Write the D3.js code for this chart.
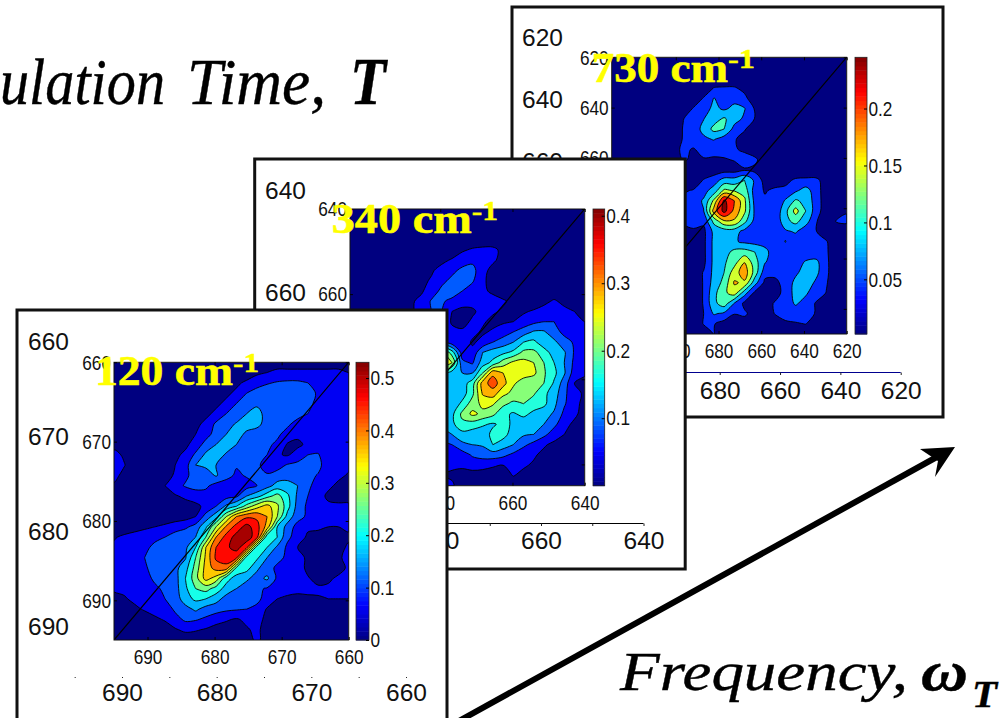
<!DOCTYPE html>
<html><head><meta charset="utf-8">
<script src="https://cdn.jsdelivr.net/npm/d3@7"></script>
<style>html,body{margin:0;padding:0;background:#fff;overflow:hidden}svg{display:block}</style>
</head><body><svg id="c" width="1008" height="718"></svg>
<script>
// Signal, in units of 0.01, rows top to bottom, columns left to right
const grid120 = [
[2,2,2,2,2,2,2,2,2,2,2,2,2,3,3,3,3,3,3,3,3,3,3,3],
[2,2,2,2,2,2,2,2,2,2,2,2,2,2,4,5,6,6,6,6,6,6,6,5],
[2,2,2,2,2,2,2,2,2,2,2,2,4,6,8,9.5,10.5,11,11,10,7,7,7,7],
[2,2,2,2,2,2,2,2,2,2,2,4,6,10,12,13,13,13,13,13,9,7,7,7],
[2,2,2,2,2,2,2,2,2,2,4,6,10,12,14,14,13,13,13,12,8,7,7,7],
[2,2,2,2,2,2,2,2,2,4,6,10,12,15,17,13,12,12,12,10,7,7,7,7],
[2,2,2,2,2,2,2,2,4,6,11,13,15.5,17,16.5,13,12,11,8,7,5,7,7,7],
[2,2,2,2,2,2,2,3,5,8,12,15,17,14,12.5,12,11,8,6,6,7,6,7,7],
[4,2,2,2,2,2,2,4,7,12,15,17,15,13,12,11,9,4.5,4,6,7,7,7,7],
[6,4.5,2,2,2,2,4,6,11,16,17,14.5,13,12.5,12,10,5.5,4.5,7,10,10.5,6,6,6],
[6.5,5.2,3,2,2,3,5,8,15,16,15,13,10.5,12,11,8,8,10.5,11.5,12,12,6,6,6],
[6,4,2,2,2,3.5,5.5,9,12,12.5,15.5,12,9,10.5,10,10.5,12,13,13,12,9.5,6,6,4.5],
[4.5,2,2,2,2.5,5,8,10.5,12,11,8,7,7,8,10,13,17,17,15,11,8,6,4,4],
[2,2,2,2,2,3,4.5,6,7,8,8,8,9,15,18,23,27,21,14,10,7,4,3,3],
[2,2,2,2,2,2,2,3,4,6,10,16,20,27,33,37,31,22,13,9,5.5,6,6,6],
[2,2,2,2,2,2,2,3,5,12,18,30,40,44,44,40,30,18,12,9,7,6,6,7],
[2,2,3,4,5,6,8,9,12,19,30,41,47,52,47,38,20,13,8,6,6,5,5,6],
[4.5,6,7,8,9,10,12,14,15,25,40,47,52,53,47,21,20,11,8,4,3,3,3,4],
[6,7,8,9,11,13,14,14,20,35,45,49,52,46,22,20,14,9,5,3,3,3.5,3,6],
[7,8,9,10,12,14,15,14.5,25,36,46,48,46,22,21,15,11.5,9,7,4,5,5,4,7],
[7,7,8,9,12.5,13,13.5,18,27,37,42,43,24,22,16,12,9,8,8,3.5,3.5,3,3,6],
[7,7,8,8,11,12,13,20,28,37,33,22,18,16,13,16,9,8,7,5.5,3,4,6,8],
[5.5,6,7,8,9,11,13,19,25,27,23,18,15,12.5,11,9.5,8,7,5.5,6.5,6,6,6,6],
[4,4.5,6,7,8,10,12,18,21,20,17,13,12,11,11,8.5,5,4,4.5,4,4.5,5,5,5],
[3,3,4,5.5,7,7,11,13,16,13,12,11,10.5,10,9,4.5,4,3.5,3.5,3.5,3.5,3.5,3.5,3.5],
[2.5,2.5,2.5,2.5,4,5.5,8,11,10.5,9,7,5.5,4.5,6,7,3.5,3,3,3,3,3,3,3,3],
[2.5,2.5,2.5,2.5,2.5,2.5,4.5,6,5.5,4.5,3,3,3,4.5,6,3,2.5,2.5,2.5,2.5,2.5,2.5,2.5,2.5],
[2,2,2,2,2,2,2,2,2,2,2,2,2,3,6,3,2,2,2,2,2,2,2,2]
];
const grid340 = [
[1.5,1.5,1.5,1.5,1.5,1.5,1.5,1.5,1.5,1.5,1.5,1.5,1.5,1.5,1.5,1.5,1.5,1.5,1.5,1.5,1.5,1.5,1.5,1.5],
[1.5,1.5,1.5,1.5,1.5,1.5,1.5,1.5,1.5,1.5,1.5,1.5,1.5,1.5,1.5,1.5,1.5,1.5,1.5,1.5,1.5,1.5,1.5,1.5],
[1.5,1.5,1.5,1.5,1.5,1.5,1.5,1.5,1.5,1.5,1.5,1.5,1.5,1.5,1.5,1.5,1.5,1.5,1.5,1.5,1.5,1.5,1.5,1.5],
[1.5,1.5,1.5,1.5,1.5,1.5,1.5,1.5,1.5,1.5,1.5,1.5,1.5,1.5,1.5,1.5,1.5,1.5,1.5,1.5,1.5,1.5,1.5,1.5],
[1.5,1.5,1.5,1.5,1.5,1.5,1.5,1.5,1.5,1.5,1.5,3.5,4.5,5,5,3,1.5,1.5,1.5,1.5,1.5,1.5,1.5,1.5],
[1.5,1.5,1.5,1.5,1.5,1.5,1.5,1.5,2,3,4.5,6,7,6,4.5,3,1.5,1.5,1.5,1.5,1.5,1.5,1.5,1.5],
[1.5,1.5,1.5,1.5,1.5,1.5,1.5,2,3.5,5.5,7,9,9.5,5,3,1.5,1.5,1.5,1.5,1.5,1.5,1.5,1.5,1.5],
[1.5,1.5,1.5,1.5,1.5,1.5,2,3,4.5,7,9,10,8.5,4.5,3,1.5,1.5,1.5,1.5,1.5,1.5,1.5,1.5,1.5],
[1.5,1.5,1.5,1.5,1.5,1.5,2,3.5,6,9,10,8,6,4.5,3.5,2,1.5,1.5,1.5,1.5,1.5,1.5,1.5,1.5],
[1.5,1.5,1.5,1.5,1.5,3,3.5,5,8.5,8.5,7,5.5,5,5,5,4.5,3,1.5,1.5,3,4.5,3,1.5,1.5],
[1.5,1.5,1.5,2,2.5,3,3.5,5.5,8,8,4,3,3.5,5,4.5,3.5,2.5,3.5,4.5,5.5,6,5,4,3],
[1.5,1.5,2,2.5,3,3.5,4,5,7,7,3.5,3,4.5,4.5,3,3.5,4,5.5,7,8,8,6.5,5.5,4],
[1.5,2,2.5,3,3.5,4,5,6,7,6,5,4.5,5,3.5,4.5,6,8,10,12.5,12.5,9.5,7,5.5,5],
[2,2.5,3,3.5,4,5,6,7,8,8,5.5,6,3.5,5,8,10,12,16,17,13.5,13,9.5,7.5,5],
[2,3,3.5,4,5,6,7,9,14,25,18,6,5,12,14,15,17,21,21,18,14,12.5,7.5,5.5],
[2,3,4,5,6,7,9,12,18,28,24,9,7.5,14,17,22,25,25.5,24,20,16,12,7,5],
[2,3,4,5,7,9,11,13,18,18,14,12,12,20,31,28,25,25.5,25,20.5,17,12.5,6,4.5],
[2,3,4,6,8,10,12,13,14,13,13,14,18,30,34,29.5,24.5,22.5,21,20,15.5,10,4,3],
[2,3,5,7,9,11,12,13,13,13,12.5,14,19,28.5,30,25,23,22,20.5,17,14,9,5,3.5],
[2,3,5,7,9,11,12,12,12,13,13,17,22,25,24.5,21,19,20,18,17,13,8.5,5,3],
[2,3,4,6,8,10,11,12,13,14,15,21,25,23,21,17,15.5,17,15,13.5,11.5,7,5,2],
[2,2,3,5,7,8,9,10,11,13,15,19,18,16.5,15.5,17,15.5,13.5,12.5,12,9,5.5,3,2],
[1.5,2,3,4,5,6,7,8,9,10,12,14.5,14,14,17,17.5,14,12.5,12,9,6,4,2,1.5],
[1.5,2,2,3,4,5,6,6,7,7,8,11,12,12.5,16,14,12,9,6.5,4.5,3,2,1.5,1.5],
[1.5,1.5,2,2,3,4,4,5,5,5,5.5,6,8.5,9.5,10,9,7,5,4.5,3,1.5,1.5,1.5,1.5],
[1.5,1.5,1.5,2,2,3,3,3,4,4,4.5,4.5,5.5,5.5,4.5,4,5.5,4.5,3.5,2,1.5,1.5,1.5,1.5],
[1.5,1.5,1.5,1.5,1.5,2,2,2,3,4,3.5,3,2.5,2,2,2,4.2,3,2,1.5,1.5,1.5,1.5,1.5],
[1.5,1.5,1.5,1.5,1.5,1.5,1.5,1.5,2,5,4.5,2,1.5,1.5,1.5,1.5,1.5,1.5,1.5,1.5,1.5,1.5,1.5,1.5]
];
const grid730 = [
[1,1,1,1,1,1,1,1,1,1,1,1,1,1,1,1,1,1,1,1,1,1,1,1],
[1,1,1,1,1,1,1,1,1,1,1,1,1,1,1,1,1,1,1,1,1,1,1,1],
[1,1,1,1,1,1,1,1,1,1,1,1,1,1,1,1,1,1,1,1,1,1,1,1],
[1,1,1,1,1,1,1,1,1,1.5,3.4,3.6,3.6,2.5,1,1,1,1,1,1,1,1,1,1],
[1,1,1,1,1,1,1,1,1.5,3.5,6.7,5.5,5.5,4,1.5,1,1,1,1,1,1,1,1,1],
[1,1,1,1,1,1,1,1.5,3.5,5,7.5,6,7.5,6.8,3,1,1,1,1,1,1,1,1,1],
[1,1,1,1,1,1,1,3.2,4.8,6.5,8.5,10.5,8,6,3.2,1,1,1,1,1,1,1,1,1],
[1,1,1,1,1,1,1,3.5,5,7.5,11,10,5.5,3.5,2,1,1,1,1,1,1,1,1,1],
[1,1,1,1,1,1,1.5,3.5,5,6,6.8,5,3.5,2.5,1,1,1,1,1,1,1,1,1,1],
[1,1,1,1,1,1,2,4,3,4.5,4.5,4.5,3.6,2.8,1.5,1,1,1,1,1,1,1,1,1],
[1,1,1,1,1,1,2,3.5,3,3,2.8,3,3.5,4.5,4,1.5,1,1,1,1,1,1,1,1],
[1,1,1,1,1,1,2,2,2,1.5,1.5,2,2,3,2.5,1,1,1,1,1,1,1,1,1],
[1,1,1,1,1,1,1,1,1.5,3.5,5,8,8,10,6,2,1.5,2.5,3.8,4,4,2,1,1],
[1,1,1,1,2,2,3,3,3.5,5.5,8,14,13,12,5,3,4,4,6,8,4.8,1.5,1,1],
[1,1,2,2,3,3,4,4,5,7,14,24,20,14,5.5,3.8,3.5,7,10.5,9,5,1.5,1,1],
[1,1,2,2,3,3,4,5,4.5,6.5,18,24.5,19,14,6,4,4,9,14.5,10,4.8,1.5,2,3],
[1,1,2,2,3,3,3,4,4,4,11,16,16,11,5.5,4.8,3.8,9,11,8,3.6,1,3.5,4],
[1,1,2,2,2,2,2,2,3,2.5,7.5,8,8,5.5,4.5,4.5,4,6,7,4.5,3.4,1.5,1.5,1],
[1,1,1,1,1,1,1,2,2,2.5,7.5,8.5,7,6,5.5,5.5,5,6.7,4.5,4.5,4,3.6,1,1],
[1,1,1,1,1,1,1,1,1.5,2.5,7.5,8.5,11,11.5,10,7.5,5,5,4.5,4.5,4.5,3.8,1,1],
[1,1,1,1,1,1,1,1,1.5,2.5,7.5,9.5,12,16.5,11.5,6.8,5,5,5,7,7.5,4,1,1],
[1,1,1,1,1,1,1,1,1.5,3.5,7.5,10,15,18.5,12,4.5,4.2,5,6,8,7.5,4,1,1],
[1,1,1,1,1,1,1,1,1.5,3.5,8,11,17,16,8,2.5,2.5,4.5,7.5,8.5,6,3.6,1,1],
[1,1,1,1,1,1,1,1,1.5,3.5,9,12.5,15,8,2.5,1.5,2.5,4,8,7,5,3.2,1,1],
[1,1,1,1,1,1,1,1,1.5,3.5,9,12,6.5,2.5,2,2.5,3.5,5,7,5.5,3,1,1,1],
[1,1,1,1,1,1,1,1,1.5,3.3,7,6,3.4,3.8,2,1.5,3.5,5,5,5,3,1,1,1],
[1,1,1,1,1,1,1,1,1,3.5,3.5,2,2,2,1,1,1.5,2.5,3,3.4,1.5,1,1,1],
[1,1,1,1,1,1,1,1,1,1.5,3.4,1,1,1,1,1,1,1,1,1,1,1,1,1]
];
const levels120 = [5,10,15,20,25,30,35,40,45,50];
const levels340 = [4,8,12,16,20,24,28,32];
const levels730 = [3.3,6.6,10,13.3,16.6,20,23.3];

const innerX120 = [690,680,670,660], innerY120 = [660,670,680,690];
const innerX340 = [700,680,660,640], innerY340 = [640,660,680,700];
const innerX730 = [720,700,680,660,640,620], innerY730 = [620,640,660,680,700,720];
const outerX120 = [690,680,670,660], outerY120 = [660,670,680,690];
const outerX340 = [700,680,660,640], outerY340 = [640,660,680];
const outerX730 = [720,700,680,660,640,620], outerY730 = [620,640,660];
const minorX120 = [695,690,685,680,675,670,665,660];
const minorX340 = [690,680,670,660,650,640];
const minorX730 = [720,700,680,660,640,620];
const barTicks120 = [0,0.1,0.2,0.3,0.4,0.5];
const barTicks340 = [0.1,0.2,0.3,0.4];
const barTicks730 = [0.05,0.1,0.15,0.2];
const labels = ["730 cm","340 cm","120 cm"];

const panels = [
 {grid:grid730, levels:levels730, k:.3, label:labels[0], frame:[512,7,431,410],
  plot:[611.7,57.3,846.7,334], dom:[730,620,620,730], bar:[855,867], barMax:.245, barMin:.002, barTicks:barTicks730,
  ix:innerX730, iy:innerY730, ox:outerX730, oy:outerY730, minor:minorX730,
  oxS:[719.7,900.7], oxD:[680,620], oyS:[38,100], oyD:[620,640], oyX:563, oxY:391, axisY:372.5, axisCol:"#00008f", axisFrom:620,
  title:[591.7,82,728,68,755]},
 {grid:grid340, levels:levels340, k:.2, label:labels[1], frame:[254.7,159,430.5,410],
  plot:[350,209,584.7,485.7], dom:[705,640,640,705], bar:[593,604.7], barMax:.41, barMin:0, barTicks:barTicks340,
  ix:innerX340, iy:innerY340, ox:outerX340, oy:outerY340, minor:minorX340,
  oxS:[438.5,643.5], oxD:[680,640], oyS:[191,293], oyD:[640,660], oyX:306, oxY:541, axisY:523.5, axisCol:"#000", axisFrom:640,
  title:[331.7,233,471.7,220,498]},
 {grid:grid120, levels:levels120, k:.2, label:labels[2], frame:[17,310,430,430],
  plot:[114,362.3,348.7,640], dom:[695,660,660,695], bar:[356,369], barMax:.53, barMin:0, barTicks:barTicks120,
  ix:innerX120, iy:innerY120, ox:outerX120, oy:outerY120, minor:minorX120,
  oxS:[122,406], oxD:[690,660], oyS:[342,437], oyD:[660,670], oyX:69, oxY:693, axisY:null, axisFrom:660,
  title:[95,385,233,372,259]}
];

const jet = d3.scaleLinear().domain([0,.125,.375,.625,.875,1])
  .range(["#000080","#0000ff","#00ffff","#ffff00","#ff0000","#800000"]).clamp(true);
const svg = d3.select("#c");
const SANS = "'Liberation Sans',Arial,sans-serif", SERIF = "'Liberation Serif',serif";

function squeeze(sel, f){
  sel.each(function(){ const n=this; const w=n.getComputedTextLength();
    d3.select(n).attr("textLength",w*f).attr("lengthAdjust","spacingAndGlyphs"); });
}
function styleAxis(g, size, f){
  g.select(".domain").remove();
  g.selectAll("text").attr("font-family",SANS).attr("font-size",size).attr("fill","#111").call(squeeze,f);
}
function note(txt,x,y,size,style,weight,len){
  const t = svg.append("text").attr("x",x).attr("y",y).attr("font-family",SERIF)
    .attr("font-size",size).attr("font-style",style).attr("font-weight",weight).attr("fill","#000")
    .attr("stroke","#000").attr("stroke-width",.4).text(txt);
  if(len) t.attr("textLength",len).attr("lengthAdjust","spacingAndGlyphs");
  return t;
}

// Headline texts and the arrow lie under the panels
note("ulation",0,104,66,"italic","normal",165);
note("Time,",187,104,66,"italic","normal",139);
note("T",350,104,68,"italic","bold",36);
note("Frequency,",620,690,54,"italic","normal",288);
note("ω",921,690,56,"italic","bold",47);
note("T",972,707,38,"italic","bold",25);
svg.append("line").attr("x1",447).attr("y1",727.6).attr("x2",945).attr("y2",452.5).attr("stroke","#000").attr("stroke-width",6);
svg.append("path").attr("d","M955,447L920,449L938,461L935,477Z").attr("fill","#000");

panels.forEach((p,pi)=>{
  const g = svg.append("g");
  const [fx,fy,fw,fh]=p.frame;
  g.append("rect").attr("x",fx).attr("y",fy).attr("width",fw).attr("height",fh)
    .attr("fill","#fff").attr("stroke","#111").attr("stroke-width",3);
  const [x0,y0,x1,y1]=p.plot;
  const X = d3.scaleLinear().domain([p.dom[0],p.dom[1]]).range([x0,x1]);
  const Y = d3.scaleLinear().domain([p.dom[2],p.dom[3]]).range([y0,y1]);
  const rows=p.grid.length, cols=p.grid[0].length;
  p.grid.forEach((r,i)=>{ if(r.length!==cols) throw new Error("row "+i+" of panel "+pi+" has "+r.length); });
  const gx = d3.scaleLinear().domain([.5,cols-.5]).range([x0,x1]);
  const gy = d3.scaleLinear().domain([.5,rows-.5]).range([y0,y1]);
  const clip="clip"+pi;
  g.append("clipPath").attr("id",clip).append("rect").attr("x",x0).attr("y",y0).attr("width",x1-x0).attr("height",y1-y0);
  const color = d=>jet((d/100 + (p.k*(p.levels[1]-p.levels[0])/100) - p.barMin)/(p.barMax-p.barMin));
  const plot = g.append("g").attr("clip-path",`url(#${clip})`);
  plot.append("rect").attr("x",x0).attr("y",y0).attr("width",x1-x0).attr("height",y1-y0).attr("fill",jet(0));
  const cs = d3.contours().size([cols,rows]).smooth(true).thresholds(p.levels)(p.grid.flat());
  const ring = d3.line().x(d=>gx(d[0])).y(d=>gy(d[1])).curve(d3.curveCatmullRomClosed.alpha(.5));
  plot.selectAll("path.c").data(cs).join("path").attr("class","c")
    .attr("d",c=>c.coordinates.flat().map(r=>ring(r.slice(0,-1))).join(""))
    .attr("fill-rule","evenodd").attr("fill",c=>color(c.value)).attr("stroke","#000").attr("stroke-width",.9);
  plot.append("line").attr("x1",X(p.dom[0])).attr("y1",Y(p.dom[3])).attr("x2",X(p.dom[1])).attr("y2",Y(p.dom[2]))
    .attr("stroke","#000").attr("stroke-width",1.2);
  g.append("rect").attr("x",x0).attr("y",y0).attr("width",x1-x0).attr("height",y1-y0)
    .attr("fill","none").attr("stroke","#111").attr("stroke-width",1);

  // inner axes
  g.append("g").attr("transform",`translate(${x0},0)`).call(d3.axisLeft(Y).tickValues(p.iy).tickFormat(d3.format("d")).tickSize(-3).tickPadding(3)).call(a=>styleAxis(a,21,.82));
  g.append("g").attr("transform",`translate(0,${y1})`).call(d3.axisBottom(X).tickValues(p.ix).tickFormat(d3.format("d")).tickSize(-3).tickPadding(9)).call(a=>styleAxis(a,21,.82));
  g.append("g").attr("transform",`translate(0,${y0})`).call(d3.axisTop(X).tickValues(p.ix).tickFormat("").tickSize(-3)).call(a=>a.select(".domain").remove());
  g.append("g").attr("transform",`translate(${x1},0)`).call(d3.axisRight(Y).tickValues(p.iy).tickFormat("").tickSize(-3)).call(a=>a.select(".domain").remove());

  // outer axes
  const OX = d3.scaleLinear().domain(p.oxD).range(p.oxS);
  const OY = d3.scaleLinear().domain(p.oyD).range(p.oyS);
  g.append("g").attr("transform",`translate(${p.oyX},0)`).call(d3.axisLeft(OY).tickValues(p.oy).tickFormat(d3.format("d")).tickSize(0).tickPadding(0)).call(a=>styleAxis(a,24.5,1));
  g.append("g").attr("transform",`translate(0,${p.oxY-9})`).call(d3.axisBottom(OX).tickValues(p.ox).tickFormat(d3.format("d")).tickSize(0).tickPadding(0)).call(a=>styleAxis(a,24.5,1));
  if(p.axisY){
    g.append("line").attr("x1",fx+2).attr("x2",OX(p.axisFrom)).attr("y1",p.axisY).attr("y2",p.axisY).attr("stroke",p.axisCol).attr("stroke-width",1);
    g.selectAll("rect.d").data(p.minor).join("rect").attr("class","d").attr("x",d=>OX(d)).attr("y",p.axisY).attr("width",1).attr("height",2.5).attr("fill","#222");
  } else {
    g.selectAll("rect.d").data(p.minor).join("rect").attr("class","d").attr("x",d=>OX(d)).attr("y",677).attr("width",1).attr("height",1).attr("fill","#222");
  }

  // colour bar
  const [bx0,bx1]=p.bar;
  const B = d3.scaleLinear().domain([p.barMin,p.barMax]).range([y1,y0]);
  const steps=d3.range(64);
  const hb=(y1-y0)/64;
  g.selectAll("rect.b").data(steps).join("rect").attr("class","b").attr("x",bx0).attr("width",bx1-bx0)
    .attr("y",i=>y1-(i+1)*hb).attr("height",hb+.5).attr("fill",i=>jet((i+.5)/64));
  g.append("rect").attr("x",bx0).attr("y",y0).attr("width",bx1-bx0).attr("height",y1-y0).attr("fill","none").attr("stroke","#222").attr("stroke-width",.8);
  g.append("g").attr("transform",`translate(${bx1},0)`).call(d3.axisRight(B).tickValues(p.barTicks).tickFormat(d=>String(d)).tickSize(-3).tickPadding(1.5)).call(a=>styleAxis(a,21,.82));

  // title
  const [tx,ty,tx2,sy,sx2]=p.title;
  g.append("text").attr("x",tx).attr("y",ty).attr("font-family",SERIF).attr("font-weight","bold").attr("font-size",43)
    .attr("fill","#ffff00").attr("stroke","#ffff00").attr("stroke-width",.6).attr("textLength",tx2-tx).attr("lengthAdjust","spacingAndGlyphs").text(p.label);
  g.append("text").attr("x",tx2).attr("y",sy).attr("font-family",SERIF).attr("font-weight","bold").attr("font-size",28)
    .attr("fill","#ffff00").attr("stroke","#ffff00").attr("stroke-width",.4).attr("textLength",sx2-tx2).attr("lengthAdjust","spacingAndGlyphs").text("-1");
});
</script></body></html>
